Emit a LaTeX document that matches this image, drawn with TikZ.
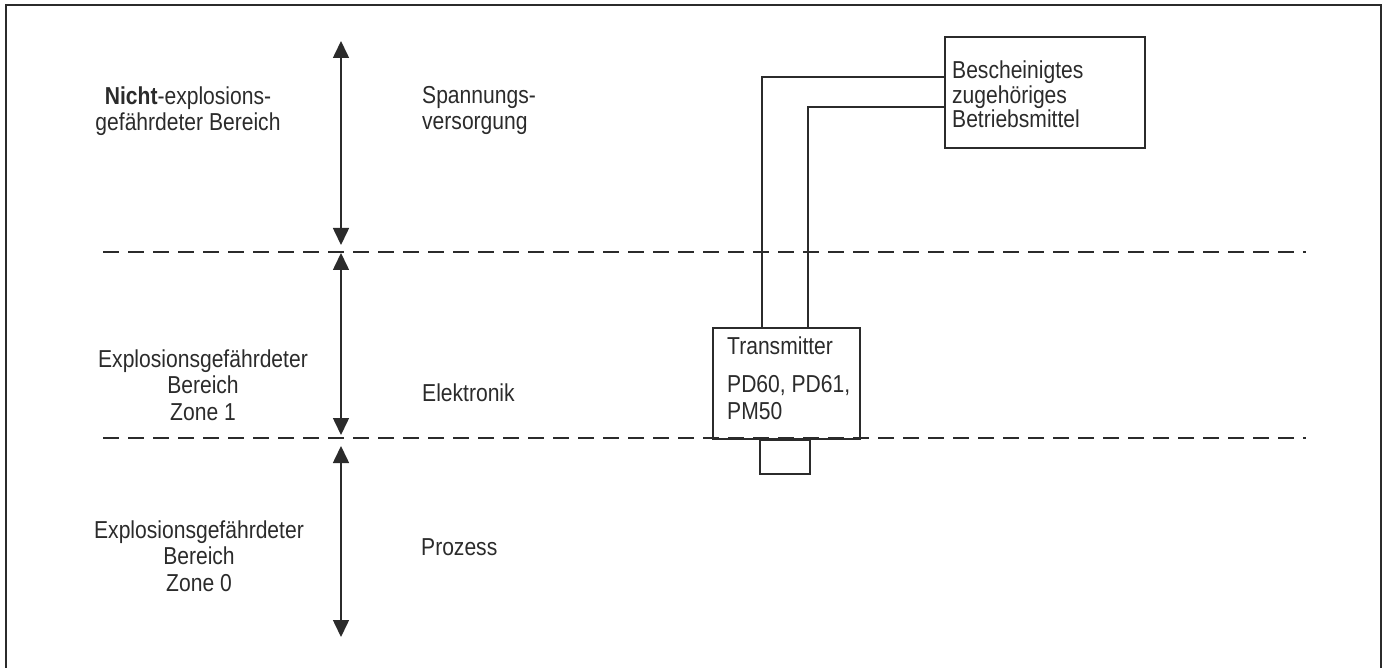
\documentclass[tikz,border=0pt]{standalone}
\usepackage{fontspec}
\setmainfont{Liberation Sans}[FakeStretch=0.86]
\usetikzlibrary{arrows.meta}
\definecolor{ink}{HTML}{2B2B2B}
\tikzset{
  lbl/.style={inner sep=0pt, font=\fontsize{24.5}{26.5}\selectfont, text=ink},
  lbltight/.style={inner sep=0pt, font=\fontsize{24.5}{24.5}\selectfont, text=ink},
  frame/.style={draw=ink, line width=1.8pt},
  zoneline/.style={draw=ink, line width=1.6pt, dash pattern=on 16pt off 9pt},
  dim/.style={draw=ink, line width=1.6pt, {Triangle[width=16pt,length=17pt]}-{Triangle[width=16pt,length=17pt]}},
  wire/.style={draw=ink, line width=1.8pt},
  box/.style={draw=ink, line width=1.8pt, inner sep=0pt, fill=white},
}
\begin{document}
\begin{tikzpicture}[x=1pt,y=-1pt]
\useasboundingbox (0,0) rectangle (1382,668);
% frame (open at the bottom)
\coordinate (fbl) at (6,668);
\coordinate (ftl) at (6,5);
\coordinate (ftr) at (1381,5);
\coordinate (fbr) at (1381,668);
\draw[frame] (fbl) -- (ftl) -- (ftr) -- (fbr);

% zone boundaries
\coordinate (dl1) at (103,252);
\coordinate (dr1) at (1306,252);
\coordinate (dl2) at (103,438);
\coordinate (dr2) at (1306,438);

% arrow end points
\coordinate (a1t) at (341,41);
\coordinate (a1b) at (341,245);
\coordinate (a2t) at (341,253);
\coordinate (a2b) at (341,435);
\coordinate (a3t) at (341,446);
\coordinate (a3b) at (341,637);
\draw[dim] (a1t) -- (a1b);
\draw[dim] (a2t) -- (a2b);
\draw[dim] (a3t) -- (a3b);

% boxes
\node[box, minimum width=200pt, minimum height=111pt] (cert) at (1045,92.5) {};
\node[box, minimum width=147pt, minimum height=111pt] (tx) at (786.5,383.5) {};
\node[box, minimum width=50pt, minimum height=34pt, anchor=north] (sensor) at (785,439) {};

\draw[zoneline] (dl1) -- (dr1);
\draw[zoneline] (dl2) -- (dr2);

% wires
\draw[wire] ([xshift=50pt]tx.north west) |- (cert.west |- 0,77);
\draw[wire] ([xshift=96pt]tx.north west) |- (cert.west |- 0,107);

% labels (base anchor = baseline of the last line)
\node[lbl, align=center, anchor=base] (nicht) at (188,131) {\textbf{Nicht}-explosions-\\gefährdeter Bereich};
\node[lbl, align=left, anchor=base west] (span) at (422,130) {Spannungs-\\versorgung};
\node[lbl, align=center, anchor=base] (z1) at (203,420) {Explosionsgefährdeter\\Bereich\\Zone 1};
\node[lbl, anchor=base west] (elek) at (422,402) {Elektronik};
\node[lbl, align=center, anchor=base] (z0) at (199,591) {Explosionsgefährdeter\\Bereich\\Zone 0};
\node[lbl, anchor=base west] (proz) at (421,555) {Prozess};
\node[lbltight, align=left, anchor=base west] (certtxt) at (952,128) {Bescheinigtes\\zugehöriges\\Betriebsmittel};
\node[lbl, anchor=base west] (txname) at (727,355) {Transmitter};
\node[lbl, align=left, anchor=base west] (txtypes) at (727,419) {PD60, PD61,\\PM50};
\end{tikzpicture}
\end{document}
